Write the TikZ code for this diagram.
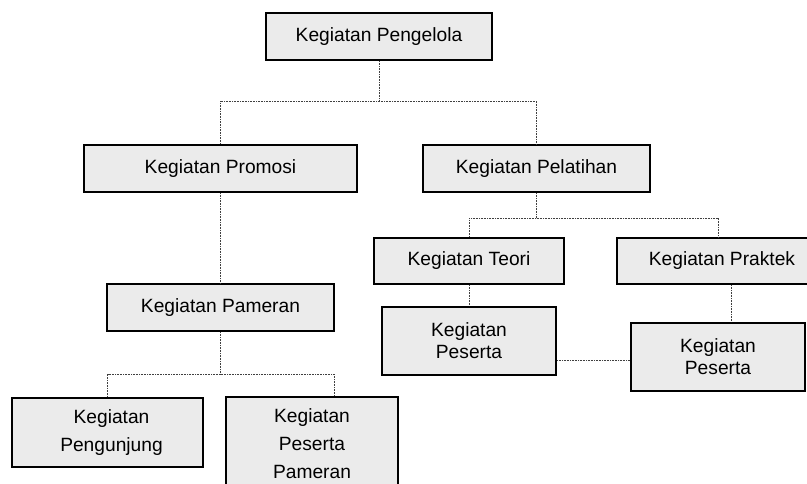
\documentclass[tikz,border=0pt]{standalone}
\usepackage{fontspec}
\setmainfont{Liberation Sans}
\begin{document}
\begin{tikzpicture}[x=1pt,y=-1pt,
  box/.style={draw=black,line width=2.2pt,fill=black!8,rectangle,inner sep=0pt,
    align=center,font=\fontsize{19.2}{22}\selectfont},
  tall/.style={font=\fontsize{19.2}{28}\selectfont},
  link/.style={draw=black!75,line width=0.8pt,dash pattern=on 1pt off 0.6pt}]
\useasboundingbox (0,0) rectangle (807,483);
\node[box,minimum width=226pt,minimum height=47pt] (peng) at (379,36.5) {Kegiatan Pengelola};
\node[box,minimum width=273pt,minimum height=47pt] (prom) at (220.5,168.5) {Kegiatan Promosi};
\node[box,minimum width=227pt,minimum height=47pt] (pel) at (536.5,168.5) {Kegiatan Pelatihan};
\node[box,minimum width=227pt,minimum height=47pt] (pam) at (220.5,307.5) {Kegiatan Pameran};
\node[box,minimum width=190pt,minimum height=46pt] (teori) at (469,261) {Kegiatan Teori};
\node[box,minimum width=202pt,minimum height=46pt] (prak) at (718,261) {\hspace*{8pt}Kegiatan Praktek};
\node[box,minimum width=174pt,minimum height=68pt] (pes1) at (469,341) {Kegiatan\\Peserta};
\node[box,minimum width=174pt,minimum height=68pt] (pes2) at (718,357) {Kegiatan\\Peserta};
\node[box,tall,minimum width=191pt,minimum height=69pt] (pgj) at (107.5,432.5) {\hspace*{8pt}Kegiatan\\\hspace*{8pt}Pengunjung};
\node[box,tall,minimum width=172pt,minimum height=93pt] (pp) at (312,443.5) {Kegiatan\\Peserta\\Pameran};
\coordinate (j1) at (379,101);
\coordinate (j2) at (536.5,218);
\coordinate (j3) at (220.5,374);
\draw[link] (peng.south) -- (j1);
\draw[link] (prom.north) |- (j1) -| (pel.north);
\draw[link] (prom.south) -- (pam.north);
\draw[link] (pel.south) -- (j2);
\draw[link] (teori.north) |- (j2) -| (prak.north);
\draw[link] (teori.south) -- (pes1.north);
\draw[link] ([xshift=13pt]prak.south) -- ([xshift=13pt]prak.south |- pes2.north);
\draw[link] ([yshift=-19pt]pes1.east) -- ([yshift=-19pt]pes1.east -| pes2.west);
\draw[link] (pam.south) -- (j3);
\draw[link] (pgj.north) |- (j3) -| ([xshift=22pt]pp.north);
\end{tikzpicture}
\end{document}
